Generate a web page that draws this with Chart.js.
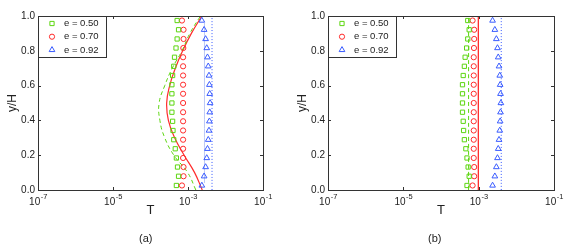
<!DOCTYPE html>
<html lang="en">
<head>
<meta charset="UTF-8" />
<title>Temperature profiles</title>
<script src="https://cdn.jsdelivr.net/npm/chart.js"></script>
<style>
  body { margin: 0; background: #fff; font-family: "Liberation Sans", Arial, sans-serif; }
  .wrap { position: relative; width: 581px; height: 245px; }
  canvas { position: absolute; top: 0; }
  .tag { position: absolute; top: 231px; font-size: 11px; line-height: 14px; color: #222; }
</style>
</head>
<body>
<div class="wrap">
  <canvas id="chartA" width="290" height="245" style="left:0"></canvas>
  <canvas id="chartB" width="291" height="245" style="left:290px"></canvas>
  <div class="tag" style="left:139px">(a)</div>
  <div class="tag" style="left:428px">(b)</div>
</div>

<script>
  // legend names
  const seriesNames = ['e = 0.50', 'e = 0.70', 'e = 0.92'];

  // axis ticks
  const xTickValues = [1e-7, 1e-5, 1e-3, 1e-1];
  const yTickValues = [0, 0.2, 0.4, 0.6, 0.8, 1.0];

  // marker heights (same in both panels)
  const yMarks = [0.026, 0.079, 0.132, 0.184, 0.237, 0.289, 0.342, 0.395, 0.447, 0.5,
                  0.553, 0.605, 0.658, 0.711, 0.763, 0.816, 0.868, 0.921, 0.974];
  const squaresT = [4.9e-4, 5.6e-4, 5.25e-4, 4.9e-4, 4.57e-4, 4.17e-4, 3.98e-4, 3.89e-4, 3.72e-4, 3.72e-4,
                    3.72e-4, 3.72e-4, 3.89e-4, 4.17e-4, 4.37e-4, 4.79e-4, 5.13e-4, 5.6e-4, 5.13e-4];
  const circlesT = [6.9e-4, 7.6e-4, 7.6e-4, 7.4e-4, 7.4e-4, 7.4e-4, 7.4e-4, 7.4e-4, 7.4e-4, 7.4e-4,
                    7.4e-4, 7.4e-4, 7.4e-4, 7.4e-4, 7.4e-4, 7.5e-4, 7.6e-4, 7.6e-4, 6.9e-4];
  const trianglesT = [2.34e-3, 2.69e-3, 2.95e-3, 3.16e-3, 3.31e-3, 3.47e-3, 3.63e-3, 3.72e-3, 3.8e-3, 3.89e-3,
                      3.8e-3, 3.72e-3, 3.63e-3, 3.47e-3, 3.31e-3, 3.16e-3, 2.95e-3, 2.69e-3, 2.34e-3];

  // panel (a) curves
  const yCurve = [0, 0.1, 0.2, 0.3, 0.4, 0.5, 0.6, 0.7, 0.8, 0.9, 1.0];
  const aGreenCurve = [1.62e-3, 9.8e-4, 4.2e-4, 2.4e-4, 1.78e-4, 1.7e-4, 2.4e-4, 3.8e-4, 6.9e-4, 1.12e-3, 2.14e-3];
  const aRedCurve = [2.4e-3, 1.5e-3, 7.9e-4, 4.4e-4, 3.0e-4, 2.7e-4, 3.25e-4, 4.6e-4, 7.2e-4, 1.23e-3, 2.34e-3];
  const yLine = [0, 1];
  const aBlueLine = [4.37e-3, 4.37e-3];
  const yFaint = [0.04, 0.96];
  const aFaintLine = [2.75e-3, 2.75e-3];

  // panel (b) lines
  const bGreenLine = [5.4e-4, 5.4e-4];
  const bRedLine = [9.8e-4, 9.8e-4];
  const bBlueLine = [3.98e-3, 3.98e-3];

  const GREEN = '#5cd60f', RED = '#ff2b2b', BLUE = '#3a5cff';
  const FONT = '"Liberation Sans", Arial, sans-serif';
  Chart.defaults.font.family = FONT;

  const pts = (xs, ys) => xs.map((x, i) => ({ x: x, y: ys[i] }));

  function markerSet(label, xs, style, color, r) {
    return { label, data: pts(xs, yMarks), pointStyle: style, pointRadius: r, borderColor: color,
             backgroundColor: 'transparent', pointBorderWidth: 1, showLine: false, marker: true };
  }
  function lineSet(xs, ys, color, dash, width) {
    return { data: pts(xs, ys), borderColor: color, borderWidth: width || 1, borderDash: dash,
             pointRadius: 0, showLine: true, tension: 0.45, fill: false };
  }

  function drawMarker(ctx, style, x, y, r) {
    ctx.beginPath();
    if (style === 'rect') {
      const s = r * Math.SQRT1_2;
      ctx.rect(x - s, y - s, 2 * s, 2 * s);
    } else if (style === 'circle') {
      ctx.arc(x, y, r, 0, Math.PI * 2);
    } else {
      ctx.moveTo(x, y - r);
      ctx.lineTo(x + r * 0.866, y + r * 0.5);
      ctx.lineTo(x - r * 0.866, y + r * 0.5);
      ctx.closePath();
    }
    ctx.stroke();
  }

  const frame = {
    id: 'frame',
    afterDatasetsDraw(chart) {
      const { ctx, chartArea: a, scales } = chart;
      ctx.save();
      ctx.strokeStyle = '#333';
      ctx.lineWidth = 1;
      ctx.strokeRect(a.left + 0.5, a.top + 0.5, a.right - a.left, a.bottom - a.top);

      // inward ticks on all four sides
      ctx.beginPath();
      scales.x.ticks.forEach(t => {
        const px = Math.round(scales.x.getPixelForValue(t.value)) + 0.5;
        ctx.moveTo(px, a.bottom); ctx.lineTo(px, a.bottom - 3);
        ctx.moveTo(px, a.top); ctx.lineTo(px, a.top + 3);
      });
      scales.y.ticks.forEach(t => {
        const py = Math.round(scales.y.getPixelForValue(t.value)) + 0.5;
        ctx.moveTo(a.left, py); ctx.lineTo(a.left + 3, py);
        ctx.moveTo(a.right, py); ctx.lineTo(a.right - 3, py);
      });
      ctx.stroke();

      // x tick labels as 10 with superscript exponent
      ctx.fillStyle = '#222';
      ctx.textBaseline = 'alphabetic';
      ctx.textAlign = 'left';
      scales.x.ticks.forEach(t => {
        const px = scales.x.getPixelForValue(t.value);
        const base = '10';
        const exp = '-' + Math.round(-Math.log10(t.value));
        ctx.font = '10px ' + FONT;
        const wb = ctx.measureText(base).width;
        ctx.font = '7.5px ' + FONT;
        const we = ctx.measureText(exp).width;
        const x0 = px - (wb + we) / 2;
        ctx.font = '10px ' + FONT;
        ctx.fillText(base, x0, a.bottom + 14.5);
        ctx.font = '7.5px ' + FONT;
        ctx.fillText(exp, x0 + wb + 0.5, a.bottom + 8.5);
      });

      // legend box in the upper left corner
      const lx = a.left, ly = a.top, lw = 68, lh = 41;
      ctx.fillStyle = '#fff';
      ctx.fillRect(lx, ly, lw, lh);
      ctx.strokeStyle = '#333';
      ctx.strokeRect(lx + 0.5, ly + 0.5, lw, lh);
      ctx.font = '9.5px ' + FONT;
      ctx.textBaseline = 'middle';
      chart.data.datasets.filter(d => d.marker).forEach((d, i) => {
        const cy = ly + 7.5 + i * 13.2;
        ctx.strokeStyle = d.borderColor;
        drawMarker(ctx, d.pointStyle, lx + 14, cy, d.pointRadius);
        ctx.fillStyle = '#222';
        ctx.fillText(d.label, lx + 26, cy);
      });
      ctx.restore();
    }
  };

  function makeChart(id, lines) {
    const datasets = [
      markerSet(seriesNames[0], squaresT, 'rect', GREEN, 3),
      markerSet(seriesNames[1], circlesT, 'circle', RED, 2.6),
      markerSet(seriesNames[2], trianglesT, 'triangle', BLUE, 3.3)
    ].concat(lines);

    return new Chart(document.getElementById(id).getContext('2d'), {
      type: 'scatter',
      data: { datasets },
      options: {
        responsive: false,
        animation: false,
        devicePixelRatio: 1,
        layout: { padding: { left: 0, right: 27, top: 16, bottom: 0 } },
        plugins: { legend: { display: false }, tooltip: { enabled: false } },
        scales: {
          x: {
            type: 'logarithmic', min: 1e-7, max: 1e-1,
            afterBuildTicks: s => { s.ticks = xTickValues.map(v => ({ value: v })); },
            ticks: { display: false },
            grid: { display: false, drawTicks: false },
            border: { display: false },
            title: { display: true, text: 'T', color: '#222', font: { size: 13 }, padding: { top: 0, bottom: 27 } },
            afterFit: s => { s.height = 55; }
          },
          y: {
            min: 0, max: 1,
            afterBuildTicks: s => { s.ticks = yTickValues.map(v => ({ value: v })); },
            ticks: { callback: v => Number(v).toFixed(1), color: '#222', font: { size: 10 }, padding: 3 },
            grid: { display: false, drawTicks: false },
            border: { display: false },
            title: { display: true, text: 'y/H', color: '#222', font: { size: 12 }, padding: { top: 5, bottom: 0 } },
            afterFit: s => { s.width = 38; }
          }
        }
      },
      plugins: [frame]
    });
  }

  makeChart('chartA', [
    lineSet(aFaintLine, yFaint, '#bcc8f6', [], 1),
    lineSet(aGreenCurve, yCurve, GREEN, [4, 3], 1),
    lineSet(aRedCurve, yCurve, RED, [], 1.2),
    lineSet(aBlueLine, yLine, BLUE, [1, 2], 1)
  ]);

  makeChart('chartB', [
    lineSet(bGreenLine, yLine, GREEN, [4, 3], 1),
    lineSet(bRedLine, yLine, RED, [], 1.3),
    lineSet(bBlueLine, yLine, BLUE, [1, 2], 1)
  ]);
</script>
</body>
</html>
